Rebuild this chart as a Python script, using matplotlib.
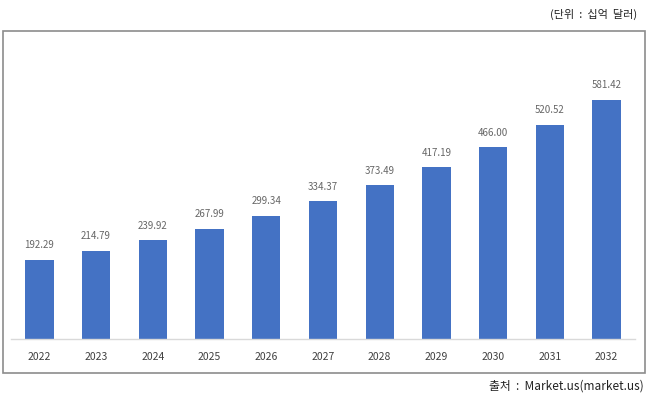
import matplotlib
matplotlib.use("Agg")
import matplotlib.pyplot as plt
from matplotlib.patches import Rectangle

plt.rcParams['font.family'] = ['Noto Sans CJK KR', 'DejaVu Sans']

years = ["2022", "2023", "2024", "2025", "2026", "2027", "2028", "2029", "2030", "2031", "2032"]
values = [192.29, 214.79, 239.92, 267.99, 299.34, 334.37, 373.49, 417.19, 466.00, 520.52, 581.42]
unit_label = "(단위  :  십억  달러)"
source_label = "출처  :  Market.us(market.us)"

W, H = 649, 398
fig = plt.figure(figsize=(W / 100, H / 100), dpi=100)

# outer frame
fig.patches.append(Rectangle((2.5 / W, 1 - 373 / H), (645 - 2.5) / W, (373 - 30.5) / H,
                             transform=fig.transFigure, fill=False,
                             edgecolor="#8c8c8c", linewidth=1.2))

ax = fig.add_axes([11 / W, 1 - 339 / H, (635 - 11) / W, (339 - 40) / H])
x = list(range(len(years)))
ax.bar(x, values, width=0.5, color="#4472C4", zorder=2)
for xi, v in zip(x, values):
    ax.annotate(f"{v:.2f}", (xi, v), xytext=(0, 7), textcoords="offset points",
                ha="center", va="bottom", fontsize=7, color="#666666")
ax.set_xlim(-0.5, len(years) - 0.5)
ax.set_ylim(0, 727)
ax.set_xticks(x)
ax.set_xticklabels(years, fontsize=7.5, color="#404040")
ax.tick_params(axis="x", length=0, pad=9)
ax.set_yticks([])
for s in ["top", "right", "left"]:
    ax.spines[s].set_visible(False)
ax.spines["bottom"].set_color("#d9d9d9")
ax.spines["bottom"].set_linewidth(1)
ax.patch.set_alpha(0)

fig.text(637 / W, 1 - 14 / H, unit_label, ha="right", va="center", fontsize=8, color="#222222")
fig.text(644 / W, 1 - 386 / H, source_label, ha="right", va="center", fontsize=8.5, color="#222222")

fig.savefig("out.png", dpi=100)
